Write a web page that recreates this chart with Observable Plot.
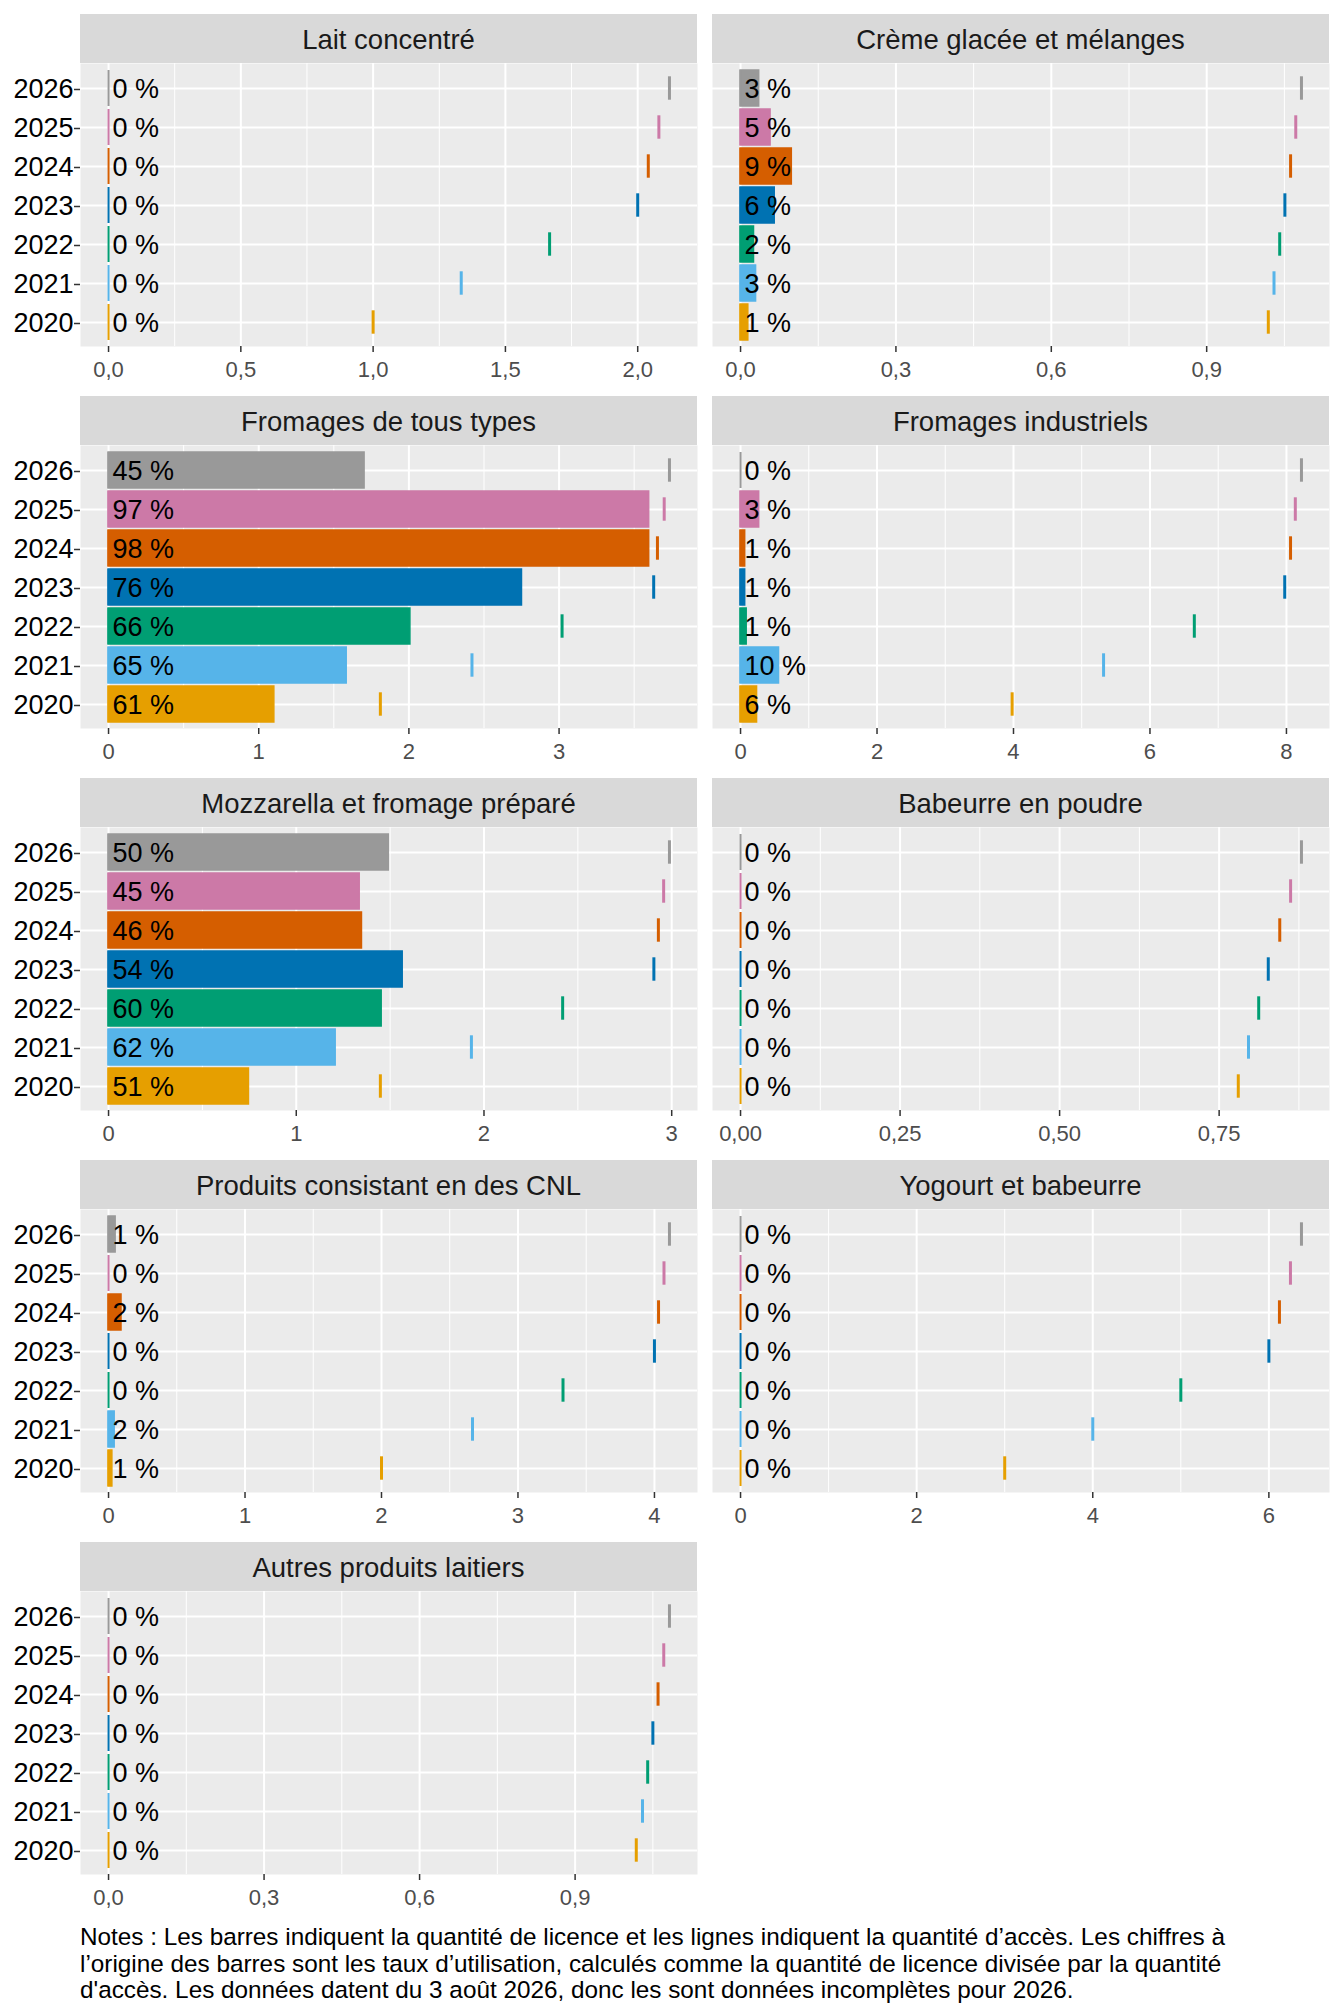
<!DOCTYPE html>
<html><head><meta charset="utf-8">
<script src="https://cdn.jsdelivr.net/npm/d3@7"></script>
<script src="https://cdn.jsdelivr.net/npm/@observablehq/plot@0.6"></script>
<style>
body{margin:0;background:#fff;font-family:"Liberation Sans",Arial,sans-serif;}
#chart{position:relative;width:1344px;height:2016px;overflow:hidden;}
.strip{position:absolute;height:49px;box-sizing:border-box;padding-top:3px;background:#D9D9D9;color:#1A1A1A;font-size:27.5px;display:flex;align-items:center;justify-content:center;white-space:nowrap;}
.panel{position:absolute;}
.panel svg{overflow:visible;}
.notes{position:absolute;left:80px;top:1924px;font-size:24.3px;line-height:26.5px;color:#000;white-space:nowrap;}
</style></head><body><div id="chart"></div>
<script>
// Facettes (catégories)
const panels = ["Lait concentré", "Crème glacée et mélanges", "Fromages de tous types", "Fromages industriels",
  "Mozzarella et fromage préparé", "Babeurre en poudre", "Produits consistant en des CNL", "Yogourt et babeurre",
  "Autres produits laitiers"];
const years = ["2020", "2021", "2022", "2023", "2024", "2025", "2026"];
const yearColors = ["#E69F00", "#56B4E9", "#009E73", "#0072B2", "#D55E00", "#CC79A7", "#999999"];

// Quantité de licence (barres), 2020 → 2026, par facette
const licence = [
  [0, 0, 0, 0, 0, 0, 0],
  [0.015, 0.030, 0.026, 0.066, 0.099, 0.058, 0.036],
  [1.104, 1.586, 2.01, 2.753, 3.60, 3.60, 1.705],
  [0.242, 0.564, 0.09, 0.068, 0.068, 0.273, 0],
  [0.748, 1.21, 1.455, 1.567, 1.35, 1.338, 1.493],
  [0, 0, 0, 0, 0, 0, 0],
  [0.028, 0.045, 0, 0, 0.095, 0, 0.052],
  [0, 0, 0, 0, 0, 0, 0],
  [0, 0, 0, 0, 0, 0, 0]
];
// Quantité d'accès (lignes), 2020 → 2026, par facette
const acces = [
  [1.0, 1.333, 1.667, 2.0, 2.04, 2.08, 2.12],
  [1.019, 1.030, 1.041, 1.051, 1.062, 1.072, 1.083],
  [1.81, 2.42, 3.02, 3.63, 3.655, 3.70, 3.735],
  [3.98, 5.32, 6.65, 7.975, 8.06, 8.13, 8.22],
  [1.448, 1.933, 2.419, 2.905, 2.929, 2.957, 2.988],
  [0.780, 0.796, 0.812, 0.827, 0.845, 0.862, 0.879],
  [2.0, 2.667, 3.33, 4.0, 4.03, 4.07, 4.11],
  [3.0, 4.0, 5.0, 6.0, 6.12, 6.245, 6.37],
  [1.018, 1.030, 1.040, 1.050, 1.060, 1.071, 1.082]
];
// Taux d'utilisation affichés (%)
const taux = [
  [0, 0, 0, 0, 0, 0, 0],
  [1, 3, 2, 6, 9, 5, 3],
  [61, 65, 66, 76, 98, 97, 45],
  [6, 10, 1, 1, 1, 3, 0],
  [51, 62, 60, 54, 46, 45, 50],
  [0, 0, 0, 0, 0, 0, 0],
  [1, 2, 0, 0, 2, 0, 1],
  [0, 0, 0, 0, 0, 0, 0],
  [0, 0, 0, 0, 0, 0, 0]
];
// Étiquettes de graduation de l'axe x
const tickLabels = [
  ["0,0", "0,5", "1,0", "1,5", "2,0"],
  ["0,0", "0,3", "0,6", "0,9"],
  ["0", "1", "2", "3"],
  ["0", "2", "4", "6", "8"],
  ["0", "1", "2", "3"],
  ["0,00", "0,25", "0,50", "0,75"],
  ["0", "1", "2", "3", "4"],
  ["0", "2", "4", "6"],
  ["0,0", "0,3", "0,6", "0,9"]
];
const notesLines = [
  "Notes : Les barres indiquent la quantité de licence et les lignes indiquent la quantité d’accès. Les chiffres à",
  "l’origine des barres sont les taux d’utilisation, calculés comme la quantité de licence divisée par la quantité",
  "d'accès. Les données datent du 3 août 2026, donc les sont données incomplètes pour 2026."
];

const FONT = '"Liberation Sans", Arial, sans-serif';
const chart = document.getElementById("chart");
const panelW = 617, stripH = 49, panelH = 283, rowPitch = 382, top0 = 14, marginB = 45;
const colX = [80, 712], yAxisW = 80;

panels.forEach((name, i) => {
  const col = i % 2, row = Math.floor(i / 2);
  const top = top0 + row * rowPitch;

  const strip = document.createElement("div");
  strip.className = "strip";
  strip.style.left = colX[col] + "px";
  strip.style.top = top + "px";
  strip.style.width = panelW + "px";
  strip.textContent = name;
  chart.appendChild(strip);

  const data = years.map((y, j) => ({year: y, licence: licence[i][j], acces: acces[i][j], taux: taux[i][j]}));
  const maxA = d3.max(acces[i]);
  const lo = -0.05 * maxA, hi = 1.05 * maxA;
  const majors = tickLabels[i].map(s => +s.replace(",", "."));
  const labelOf = new Map(majors.map((v, k) => [v, tickLabels[i][k]]));
  const step = majors[1] - majors[0];
  const minors = [majors[0] - step / 2, ...majors.map(m => m + step / 2)].filter(m => m > lo && m < hi);

  const left = col === 0 ? yAxisW : 0;
  const marks = [
    Plot.frame({fill: "#EBEBEB", stroke: null}),
    Plot.ruleX(minors, {stroke: "white", strokeWidth: 1}),
    Plot.ruleX(majors, {stroke: "white", strokeWidth: 2}),
    Plot.ruleY(years, {stroke: "white", strokeWidth: 2}),
    Plot.barX(data, {x: "licence", y: "year", fill: "year", stroke: "year", strokeWidth: 1.5}),
    Plot.tickX(data, {x: () => 0, y: "year", stroke: "year", strokeWidth: 2}),
    Plot.tickX(data, {x: "acces", y: "year", stroke: "year", strokeWidth: 3, insetTop: 6.3, insetBottom: 6.3}),
    Plot.text(data, {x: () => 0, y: "year", text: d => d.taux + " %", textAnchor: "start", dx: 4, dy: 1,
      fontSize: 27, fill: "black", fontFamily: FONT}),
    Plot.axisX({ticks: majors, tickFormat: d => labelOf.get(d), tickSize: 6, tickPadding: 9, fontSize: 22,
      fill: "#4D4D4D", stroke: "#333333", strokeWidth: 1.5, label: null, fontFamily: FONT})
  ];
  if (col === 0) {
    marks.push(Plot.axisY({tickSize: 6, tickPadding: 1, fontSize: 27, fill: "black", stroke: "#333333",
      strokeWidth: 1.5, label: null, fontFamily: FONT, dy: 1}));
  }

  const plot = Plot.plot({
    width: panelW + left,
    height: panelH + marginB,
    marginLeft: left, marginRight: 0, marginTop: 0, marginBottom: marginB,
    style: {fontFamily: FONT, background: "transparent"},
    x: {domain: [lo, hi], label: null},
    y: {domain: years.slice().reverse(), paddingInner: 0.08, paddingOuter: 0.14, label: null,
      axis: col === 0 ? undefined : null},
    color: {domain: years, range: yearColors},
    marks
  });
  const wrap = document.createElement("div");
  wrap.className = "panel";
  wrap.style.left = (colX[col] - left) + "px";
  wrap.style.top = (top + stripH) + "px";
  wrap.appendChild(plot);
  chart.appendChild(wrap);
});

const notes = document.createElement("div");
notes.className = "notes";
notesLines.forEach((l, k) => {
  const d = document.createElement("div");
  d.textContent = l;
  notes.appendChild(d);
});
chart.appendChild(notes);
</script>
</body></html>
